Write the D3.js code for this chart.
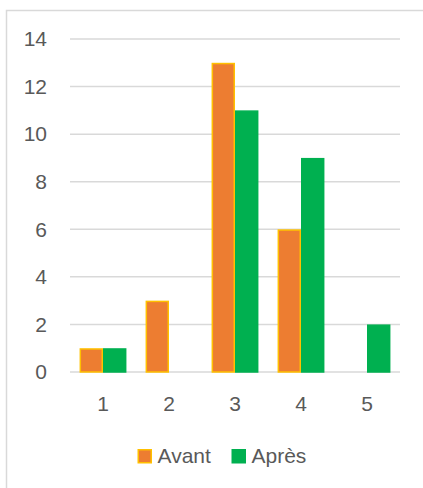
<!DOCTYPE html>
<html>
<head>
<meta charset="utf-8">
<script src="https://cdn.jsdelivr.net/npm/d3@7"></script>
<style>
  html, body { margin: 0; padding: 0; background: #fff; }
  svg { display: block; font-family: "Liberation Sans", Arial, sans-serif; }
</style>
</head>
<body>
<svg id="chart" width="423" height="488"></svg>
<script>
const categories = ["1", "2", "3", "4", "5"];
const seriesNames = ["Avant", "Après"];
const avant = [1, 3, 13, 6, 0];
const apres = [1, 0, 11, 9, 2];
const yTicks = [0, 2, 4, 6, 8, 10, 12, 14];

const fills = ["#ED7D31", "#00B050"];
const strokes = ["#FFC000", "#00B050"];

const svg = d3.select("#chart");
const W = 423, H = 488;

// outer chart border (right/bottom cropped off)
svg.append("rect")
  .attr("x", 6.5).attr("y", 10.5)
  .attr("width", W + 10).attr("height", H + 10)
  .attr("fill", "#fff").attr("stroke", "#D9D9D9").attr("stroke-width", 1.5);

const x0 = d3.scaleBand().domain(categories).range([70, 400]).paddingInner(0.29).paddingOuter(0.145);
const x1 = d3.scaleBand().domain(seriesNames).range([0, x0.bandwidth()]);
const y = d3.scaleLinear().domain([0, 14]).range([372, 39]);

// gridlines
svg.append("g").selectAll("line").data(yTicks).join("line")
  .attr("x1", 70).attr("x2", 400)
  .attr("y1", d => y(d)).attr("y2", d => y(d))
  .attr("stroke", "#D9D9D9").attr("stroke-width", 1.5);

// y axis labels
const yAxis = d3.axisLeft(y).tickValues(yTicks).tickSize(0).tickPadding(0).tickFormat(d3.format("d"));
const gy = svg.append("g").attr("transform", "translate(47,0)").call(yAxis);
gy.select(".domain").remove();
gy.selectAll("text").attr("fill", "#595959").attr("font-size", 21)
  .attr("font-family", "'Liberation Sans', Arial, sans-serif");

// x axis labels
const xAxis = d3.axisBottom(x0).tickSize(0).tickPadding(0);
const gx = svg.append("g").attr("transform", "translate(0,396)").call(xAxis);
gx.select(".domain").remove();
gx.selectAll("text").attr("fill", "#595959").attr("font-size", 21)
  .attr("font-family", "'Liberation Sans', Arial, sans-serif");

// bars
const data = categories.map((c, i) => ({ c, vals: [avant[i], apres[i]] }));
const groups = svg.append("g").selectAll("g").data(data).join("g")
  .attr("transform", d => `translate(${x0(d.c)},0)`);
groups.selectAll("rect")
  .data(d => d.vals.map((v, k) => ({ v, k })).filter(e => e.v > 0))
  .join("rect")
  .attr("x", e => x1(seriesNames[e.k]) + 0.75)
  .attr("width", x1.bandwidth() - 1.5)
  .attr("y", e => y(e.v) + 0.75)
  .attr("height", e => y(0) - y(e.v) - 0.75)
  .attr("fill", e => fills[e.k])
  .attr("stroke", e => strokes[e.k])
  .attr("stroke-width", 1.5);

// legend
const legendX = [137.5, 231.5];
const lg = svg.append("g").selectAll("g").data(seriesNames).join("g")
  .attr("transform", (d, i) => `translate(${legendX[i]},449)`);
lg.append("rect")
  .attr("x", 0.75).attr("y", 0.75).attr("width", 13).attr("height", 13)
  .attr("fill", (d, i) => fills[i]).attr("stroke", (d, i) => strokes[i]).attr("stroke-width", 1.5);
lg.append("text")
  .attr("x", 20).attr("y", 14.3)
  .attr("fill", "#595959").attr("font-size", 21)
  .text(d => d);
</script>
</body>
</html>
